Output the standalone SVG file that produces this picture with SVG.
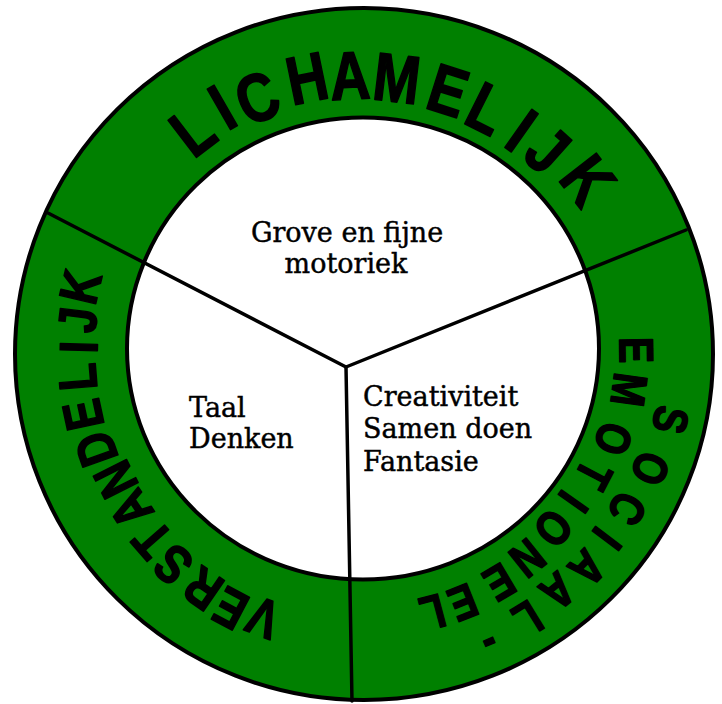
<svg xmlns="http://www.w3.org/2000/svg" width="722" height="704" viewBox="0 0 722 704">
<style>
.ring{fill:#008000;stroke:#000;stroke-width:4}
.hub{fill:#fff;stroke:#000;stroke-width:4}
.spoke{stroke:#000;stroke-width:3.5;fill:none;stroke-linecap:round}
.big,.mid,.sm{font-family:"Liberation Sans",Arial,sans-serif;font-weight:bold;text-anchor:middle;fill:#000;stroke:#000;stroke-width:1.6;stroke-linejoin:round}
.big{font-size:68px}
.mid{font-size:54px}
.sm{font-size:48px}
.lbl{font-family:"DejaVu Serif","Liberation Serif",serif;font-size:27px;fill:#000;stroke:#000;stroke-width:0.45}
</style>
<rect width="722" height="704" fill="#fff"/>
<g id="wheel">
<ellipse class="ring" cx="364" cy="354" rx="349" ry="346"/>
<ellipse class="hub" cx="363" cy="348.5" rx="236" ry="231"/>
</g>
<g id="connectors">
<line class="spoke" x1="346" y1="367" x2="48" y2="213"/>
<line class="spoke" x1="346" y1="367" x2="686" y2="230"/>
<line class="spoke" x1="346" y1="367" x2="352" y2="701"/>
</g>
<g id="lichamelijk" class="big">
<text transform="rotate(-37.5 364 354) translate(364 72) scale(.82 1)" y="24">L</text>
<text transform="rotate(-29.9 364 354) translate(364 69) scale(.82 1)" y="24">I</text>
<text transform="rotate(-22.6 364 354) translate(364 76) scale(.82 1)" y="24">C</text>
<text transform="rotate(-11.7 364 354) translate(364 72) scale(.82 1)" y="24">H</text>
<text transform="rotate(-2.9 364 354) translate(364 75) scale(.82 1)" y="24">A</text>
<text transform="rotate(6.8 364 354) translate(364 76) scale(.82 1)" y="24">M</text>
<text transform="rotate(17.7 364 354) translate(364 77) scale(.82 1)" y="24">E</text>
<text transform="rotate(26.6 364 354) translate(364 79) scale(.82 1)" y="24">L</text>
<text transform="rotate(35.2 364 354) translate(364 80) scale(.82 1)" y="24">I</text>
<text transform="rotate(42 364 354) translate(364 79) scale(.82 1)" y="24">J</text>
<text transform="rotate(52.2 364 354) translate(364 70) scale(.82 1)" y="24">K</text>
</g>
<g id="verstandelijk" class="mid">
<text transform="rotate(200.9 364 354) translate(364 71) scale(.82 1)" y="19.3">V</text>
<text transform="rotate(207.7 364 354) translate(364 66) scale(.82 1)" y="19.3">E</text>
<text transform="rotate(214.4 364 354) translate(364 69) scale(.82 1)" y="19.3">R</text>
<text transform="rotate(222.2 364 354) translate(364 69) scale(.82 1)" y="19.3">S</text>
<text transform="rotate(228.7 364 354) translate(364 72) scale(.82 1)" y="19.3">T</text>
<text transform="rotate(236.3 364 354) translate(364 73) scale(.82 1)" y="19.3">A</text>
<text transform="rotate(243.2 364 354) translate(364 75) scale(.82 1)" y="19.3">N</text>
<text transform="rotate(250.5 364 354) translate(364 69) scale(.82 1)" y="19.3">D</text>
<text transform="rotate(257.8 364 354) translate(364 66) scale(.82 1)" y="19.3">E</text>
<text transform="rotate(265.4 364 354) translate(364 66) scale(.82 1)" y="19.3">L</text>
<text transform="rotate(271.4 364 354) translate(364 68) scale(.82 1)" y="19.3">I</text>
<text transform="rotate(276.8 364 354) translate(364 65) scale(.82 1)" y="19.3">J</text>
<text transform="rotate(283.3 364 354) translate(364 62) scale(.82 1)" y="19.3">K</text>
</g>
<g id="sociaal-emotioneel" class="sm">
<text transform="rotate(102.1 364 354) translate(364 40) scale(.82 1)" y="17.2">S</text>
<text transform="rotate(111.8 364 354) translate(364 45) scale(.82 1)" y="17.2">O</text>
<text transform="rotate(120.4 364 354) translate(364 48) scale(.82 1)" y="17.2">C</text>
<text transform="rotate(127.2 364 354) translate(364 48) scale(.82 1)" y="17.2">I</text>
<text transform="rotate(133.8 364 354) translate(364 44) scale(.82 1)" y="17.2">A</text>
<text transform="rotate(140.8 364 354) translate(364 47) scale(.82 1)" y="17.2">A</text>
<text transform="rotate(148.3 364 354) translate(364 42) scale(.82 1)" y="17.2">L</text>
<text transform="rotate(156.5 364 354) translate(364 40) scale(.82 1)" y="12.5">-</text>
<text transform="rotate(89.2 364 354) translate(364 81) scale(.82 1)" y="17.2">E</text>
<text transform="rotate(97.7 364 354) translate(364 86) scale(.82 1)" y="17.2">M</text>
<text transform="rotate(108.8 364 354) translate(364 90) scale(.82 1)" y="17.2">O</text>
<text transform="rotate(117.7 364 354) translate(364 94) scale(.82 1)" y="17.2">T</text>
<text transform="rotate(125.2 364 354) translate(364 97) scale(.82 1)" y="17.2">I</text>
<text transform="rotate(132.6 364 354) translate(364 96) scale(.82 1)" y="17.2">O</text>
<text transform="rotate(141.3 364 354) translate(364 92) scale(.82 1)" y="17.2">N</text>
<text transform="rotate(149.3 364 354) translate(364 88) scale(.82 1)" y="17.2">E</text>
<text transform="rotate(158.3 364 354) translate(364 86) scale(.82 1)" y="17.2">E</text>
<text transform="rotate(165.1 364 354) translate(364 86) scale(.82 1)" y="17.2">L</text>
</g>
<g id="node-motoriek" class="lbl" text-anchor="middle">
<text x="347" y="242">Grove en fijne</text>
<text x="346" y="273">motoriek</text>
</g>
<g id="node-taal" class="lbl">
<text x="189" y="417">Taal</text>
<text x="189" y="448">Denken</text>
</g>
<g id="node-creativiteit" class="lbl">
<text x="363" y="406">Creativiteit</text>
<text x="363" y="438">Samen doen</text>
<text x="363" y="471">Fantasie</text>
</g>
</svg>
